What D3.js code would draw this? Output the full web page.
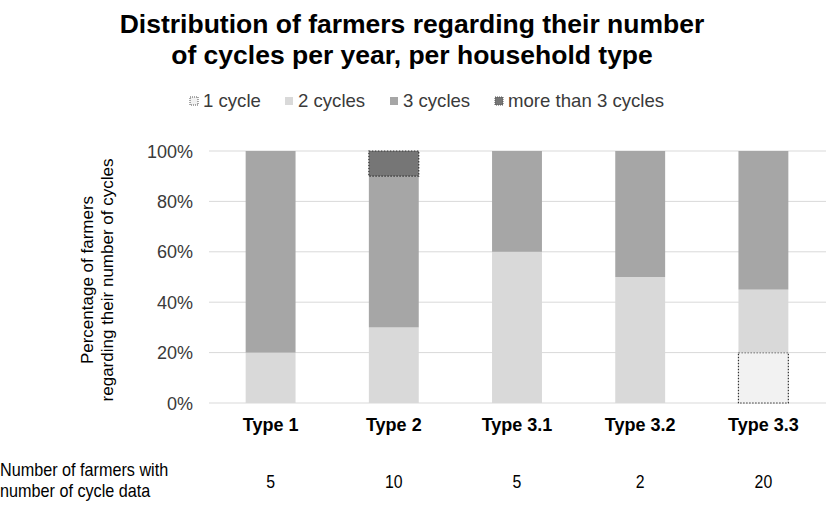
<!DOCTYPE html>
<html><head><meta charset="utf-8">
<script src="https://cdn.jsdelivr.net/npm/d3@7"></script>
<style>body{margin:0;background:#fff}svg{display:block;font-family:"Liberation Sans",Arial,sans-serif}</style>
</head><body><svg id="c" width="826" height="506"></svg>
<script>
const categories = ["Type 1","Type 2","Type 3.1","Type 3.2","Type 3.3"];
const seriesNames = ["1 cycle","2 cycles","3 cycles","more than 3 cycles"];
const oneCycle   = [0, 0, 0, 0, 20];
const twoCycles  = [20, 30, 60, 50, 25];
const threeCycles= [80, 60, 40, 50, 55];
const moreThan3  = [0, 10, 0, 0, 0];
const farmerCounts = [5, 10, 5, 2, 20];
const yTicks = [0, 20, 40, 60, 80, 100];
const titleLines = ["Distribution of farmers regarding their number","of cycles per year, per household type"];
const yTitleLines = ["Percentage of farmers","regarding their number of cycles"];
const bottomLabel = ["Number of farmers with","number of cycle data"];

const colors = ["#f2f2f2","#d9d9d9","#a6a6a6","#767676"];
const dotted = [true,false,false,true];

const svg = d3.select("#c");
const x = d3.scaleBand().domain(categories).range([209,825]).paddingInner(0.595).paddingOuter(0.2975);
const y = d3.scaleLinear().domain([0,100]).range([403,151]);

// gridlines
svg.append("g").selectAll("line").data(yTicks).join("line")
  .attr("x1",209).attr("x2",826).attr("y1",d=>y(d)).attr("y2",d=>y(d))
  .attr("stroke","#d9d9d9").attr("stroke-width",1);

// stacked bars
const rows = categories.map((c,i)=>({cat:c, s0:oneCycle[i], s1:twoCycles[i], s2:threeCycles[i], s3:moreThan3[i]}));
const stack = d3.stack().keys(["s0","s1","s2","s3"])(rows);
stack.forEach((layer,k)=>{
  svg.append("g").selectAll("rect").data(layer.filter(d=>d[1]-d[0]>0)).join("rect")
    .attr("x",d=>x(d.data.cat)).attr("width",x.bandwidth())
    .attr("y",d=>y(d[1])).attr("height",d=>y(d[0])-y(d[1]))
    .attr("fill",colors[k])
    .attr("stroke",dotted[k]?"#333":"none").attr("stroke-dasharray",dotted[k]?"1.5,1.5":null).attr("stroke-width",1.2);
});

// y ticks
svg.append("g").selectAll("text").data(yTicks).join("text")
  .attr("x",193).attr("y",d=>y(d)+6.5).attr("text-anchor","end")
  .attr("font-size",18).attr("fill","#3a3a3a").text(d=>d+"%");

// category labels
svg.append("g").selectAll("text").data(categories).join("text")
  .attr("x",d=>x(d)+x.bandwidth()/2).attr("y",431).attr("text-anchor","middle")
  .attr("font-size",18).attr("font-weight","bold").attr("fill","#000").text(d=>d);

// counts (narrow-looking text)
svg.append("g").selectAll("text").data(farmerCounts).join("text")
  .attr("transform",(d,i)=>`translate(${x(categories[i])+x.bandwidth()/2},488) scale(0.88,1)`)
  .attr("text-anchor","middle")
  .attr("font-size",18).attr("fill","#000").text(d=>d);

svg.append("g").selectAll("text").data(bottomLabel).join("text")
  .attr("transform",(d,i)=>`translate(0,${476+i*21}) scale(0.9,1)`)
  .attr("font-size",18).attr("fill","#000").text(d=>d);

// title
svg.append("g").selectAll("text").data(titleLines).join("text")
  .attr("x",412).attr("y",(d,i)=>33+i*31).attr("text-anchor","middle")
  .attr("font-size",26.5).attr("font-weight","bold").attr("fill","#000").text(d=>d);

// y title
svg.append("g").attr("transform","translate(0,280) rotate(-90)")
  .selectAll("text").data(yTitleLines).join("text")
  .attr("x",0).attr("y",(d,i)=>93+i*20).attr("text-anchor","middle")
  .attr("font-size",17).attr("fill","#000").text(d=>d);

// legend
const legX = [190, 285, 390, 495];
const lg = svg.append("g").selectAll("g").data(seriesNames).join("g")
  .attr("transform",(d,i)=>`translate(${legX[i]},97)`);
lg.append("rect").attr("width",8).attr("height",8)
  .attr("fill",(d,i)=>colors[i])
  .attr("stroke",(d,i)=>dotted[i]?"#555":"none").attr("stroke-dasharray","1,1");
lg.append("text").attr("x",13).attr("y",10).attr("font-size",18.6).attr("fill","#3a3a3a").text(d=>d);
</script></body></html>
